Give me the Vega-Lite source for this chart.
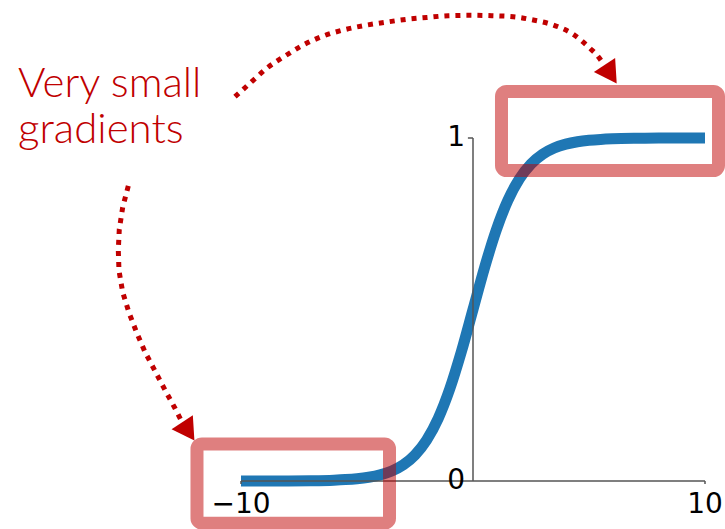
{
  "$schema": "https://vega.github.io/schema/vega-lite/v6.json",
  "width": 725,
  "height": 529,
  "padding": 0,
  "autosize": "none",
  "background": "white",
  "config": {"view": {"stroke": null}},
  "datasets": {
    "sigmoid": [
      {"x": -10, "y": 0.0000454}, {"x": -9, "y": 0.000123}, {"x": -8, "y": 0.000335},
      {"x": -7, "y": 0.000911}, {"x": -6, "y": 0.00247}, {"x": -5.5, "y": 0.00407},
      {"x": -5, "y": 0.00669}, {"x": -4.5, "y": 0.0110}, {"x": -4, "y": 0.0180},
      {"x": -3.5, "y": 0.0293}, {"x": -3, "y": 0.0474}, {"x": -2.5, "y": 0.0759},
      {"x": -2, "y": 0.1192}, {"x": -1.5, "y": 0.1824}, {"x": -1, "y": 0.2689},
      {"x": -0.5, "y": 0.3775}, {"x": 0, "y": 0.5}, {"x": 0.5, "y": 0.6225},
      {"x": 1, "y": 0.7311}, {"x": 1.5, "y": 0.8176}, {"x": 2, "y": 0.8808},
      {"x": 2.5, "y": 0.9241}, {"x": 3, "y": 0.9526}, {"x": 3.5, "y": 0.9707},
      {"x": 4, "y": 0.9820}, {"x": 4.5, "y": 0.9890}, {"x": 5, "y": 0.9933},
      {"x": 5.5, "y": 0.9959}, {"x": 6, "y": 0.99753}, {"x": 7, "y": 0.99909},
      {"x": 8, "y": 0.99966}, {"x": 9, "y": 0.99988}, {"x": 10, "y": 0.99995}
    ],
    "axes": [
      {"x": -10, "y": 0, "x2": 10, "y2": 0},
      {"x": 0, "y": 0, "x2": 0, "y2": 1},
      {"x": -0.22, "y": 1, "x2": 0, "y2": 1},
      {"x": 10, "y": 0, "x2": 10, "y2": -0.009},
      {"x": -10, "y": 0, "x2": -10, "y2": -0.009}
    ],
    "ylabels": [{"x": 0, "y": 1, "label": "1"}, {"x": 0, "y": 0, "label": "0"}],
    "xlabels": [{"x": -10, "y": 0, "label": "−10"}, {"x": 10, "y": 0, "label": "10"}],
    "boxes": [
      {"x": 1.228, "x2": 10.582, "y": 1.1356, "y2": 0.9052},
      {"x": -11.897, "x2": -3.599, "y": 0.1079, "y2": -0.123}
    ],
    "note": [
      {"x": -19.612, "y": 1.1195, "label": "Very small"},
      {"x": -19.612, "y": 0.985, "label": "gradients"}
    ],
    "arrowTop": [
      {"i": 0, "x": -10.259, "y": 1.1204}, {"i": 1, "x": -9.539, "y": 1.1641},
      {"i": 2, "x": -8.892, "y": 1.2032}, {"i": 3, "x": -8.103, "y": 1.2391},
      {"i": 4, "x": -7.315, "y": 1.2711}, {"i": 5, "x": -6.453, "y": 1.2974},
      {"i": 6, "x": -5.591, "y": 1.3149}, {"i": 7, "x": -4.728, "y": 1.3274},
      {"i": 8, "x": -3.793, "y": 1.3373}, {"i": 9, "x": -2.858, "y": 1.3461},
      {"i": 10, "x": -1.996, "y": 1.3513}, {"i": 11, "x": -1.065, "y": 1.3566},
      {"i": 12, "x": -0.129, "y": 1.3577}, {"i": 13, "x": 0.806, "y": 1.3566},
      {"i": 14, "x": 1.737, "y": 1.3536}, {"i": 15, "x": 2.599, "y": 1.3440},
      {"i": 16, "x": 3.461, "y": 1.3294}, {"i": 17, "x": 4.323, "y": 1.3023},
      {"i": 18, "x": 5.043, "y": 1.2615}, {"i": 19, "x": 5.401, "y": 1.2370},
      {"i": 20, "x": 5.560, "y": 1.2222}
    ],
    "arrowBottom": [
      {"i": 0, "x": -14.858, "y": 0.8601}, {"i": 1, "x": -15.099, "y": 0.7980},
      {"i": 2, "x": -15.246, "y": 0.7338}, {"i": 3, "x": -15.289, "y": 0.6735},
      {"i": 4, "x": -15.259, "y": 0.6131}, {"i": 5, "x": -15.099, "y": 0.5501},
      {"i": 6, "x": -14.828, "y": 0.4907}, {"i": 7, "x": -14.496, "y": 0.4324},
      {"i": 8, "x": -14.138, "y": 0.3761}, {"i": 9, "x": -13.707, "y": 0.3207},
      {"i": 10, "x": -13.276, "y": 0.2653}, {"i": 11, "x": -12.845, "y": 0.2120},
      {"i": 12, "x": -12.586, "y": 0.1778}
    ],
    "heads": [
      {"x": 5.931, "y": 1.186},
      {"x": -12.272, "y": 0.1446}
    ]
  },
  "encoding": {
    "x": {"field": "x", "type": "quantitative", "scale": {"domain": [-20.388, 10.862], "nice": false, "zero": false}, "axis": null},
    "y": {"field": "y", "type": "quantitative", "scale": {"domain": [-0.13994, 1.40233], "nice": false, "zero": false}, "axis": null}
  },
  "layer": [
    {
      "data": {"name": "sigmoid"},
      "mark": {"type": "line", "color": "#1f77b4", "strokeWidth": 11, "strokeCap": "butt", "interpolate": "monotone"},
      "encoding": {}
    },
    {
      "data": {"name": "axes"},
      "mark": {"type": "rule", "color": "#555555", "strokeWidth": 1.5},
      "encoding": {"x2": {"field": "x2"}, "y2": {"field": "y2"}}
    },
    {
      "data": {"name": "ylabels"},
      "mark": {"type": "text", "font": "DejaVu Sans", "fontSize": 28, "align": "right", "baseline": "middle", "dx": -8, "color": "#000000"},
      "encoding": {"text": {"field": "label"}}
    },
    {
      "data": {"name": "xlabels"},
      "mark": {"type": "text", "font": "DejaVu Sans", "fontSize": 28, "align": "center", "baseline": "alphabetic", "dy": 32, "color": "#000000"},
      "encoding": {"text": {"field": "label"}}
    },
    {
      "data": {"name": "boxes"},
      "mark": {"type": "rect", "filled": false, "stroke": "#C00000", "strokeOpacity": 0.5, "strokeWidth": 13, "cornerRadius": 5},
      "encoding": {"x2": {"field": "x2"}, "y2": {"field": "y2"}}
    },
    {
      "data": {"name": "note"},
      "mark": {"type": "text", "font": "Lato", "fontSize": 42, "fontWeight": 300, "align": "left", "baseline": "alphabetic", "color": "#C00000"},
      "encoding": {"text": {"field": "label"}}
    },
    {
      "data": {"name": "arrowTop"},
      "mark": {"type": "line", "color": "#C00000", "strokeWidth": 5, "strokeDash": [5, 6], "strokeCap": "butt", "interpolate": "monotone"},
      "encoding": {"order": {"field": "i"}}
    },
    {
      "data": {"name": "arrowBottom"},
      "mark": {"type": "line", "color": "#C00000", "strokeWidth": 5, "strokeDash": [5, 6], "strokeCap": "butt"},
      "encoding": {"order": {"field": "i"}}
    },
    {
      "data": {"name": "heads"},
      "mark": {"type": "point", "shape": "triangle-up", "filled": true, "color": "#C00000", "opacity": 1, "size": 650, "angle": 146.5},
      "encoding": {}
    }
  ]
}
